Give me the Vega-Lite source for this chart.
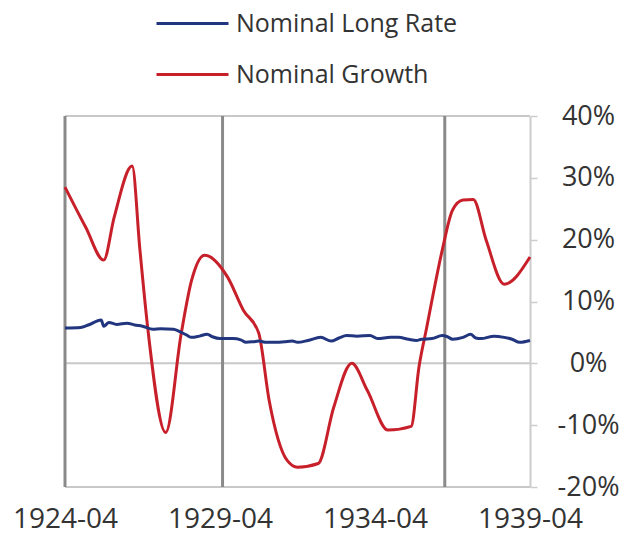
{
  "$schema": "https://vega.github.io/schema/vega-lite/v6.json",
  "width": 465,
  "height": 371,
  "autosize": {"type": "none"},
  "padding": {"left": 65, "top": 116, "right": 107, "bottom": 63},
  "background": "white",
  "config": {
    "view": {"stroke": null},
    "font": "Open Sans",
    "axis": {"labelFont": "Open Sans", "labelColor": "#333333"},
    "legend": {"labelFont": "Open Sans"}
  },
  "datasets": {
    "series": [
      {"date": "1924-04-01", "series": "Nominal Growth", "value": 28.5},
      {"date": "1924-12-01", "series": "Nominal Growth", "value": 22.0},
      {"date": "1925-07-01", "series": "Nominal Growth", "value": 16.7},
      {"date": "1925-11-01", "series": "Nominal Growth", "value": 23.6},
      {"date": "1926-06-01", "series": "Nominal Growth", "value": 31.9},
      {"date": "1926-09-01", "series": "Nominal Growth", "value": 18.3},
      {"date": "1926-12-01", "series": "Nominal Growth", "value": 5.8},
      {"date": "1927-07-01", "series": "Nominal Growth", "value": -11.2},
      {"date": "1928-01-01", "series": "Nominal Growth", "value": 4.9},
      {"date": "1928-05-01", "series": "Nominal Growth", "value": 13.4},
      {"date": "1928-10-01", "series": "Nominal Growth", "value": 17.5},
      {"date": "1929-07-01", "series": "Nominal Growth", "value": 13.9},
      {"date": "1930-01-01", "series": "Nominal Growth", "value": 8.6},
      {"date": "1930-07-01", "series": "Nominal Growth", "value": 4.9},
      {"date": "1930-11-01", "series": "Nominal Growth", "value": -6.0},
      {"date": "1931-06-01", "series": "Nominal Growth", "value": -15.7},
      {"date": "1931-10-01", "series": "Nominal Growth", "value": -16.8},
      {"date": "1932-06-01", "series": "Nominal Growth", "value": -16.2},
      {"date": "1932-12-01", "series": "Nominal Growth", "value": -7.1},
      {"date": "1933-07-01", "series": "Nominal Growth", "value": 0.0},
      {"date": "1934-01-01", "series": "Nominal Growth", "value": -4.4},
      {"date": "1934-09-01", "series": "Nominal Growth", "value": -10.8},
      {"date": "1935-06-01", "series": "Nominal Growth", "value": -10.2},
      {"date": "1935-09-01", "series": "Nominal Growth", "value": -0.6},
      {"date": "1935-12-01", "series": "Nominal Growth", "value": 5.8},
      {"date": "1936-02-01", "series": "Nominal Growth", "value": 10.2},
      {"date": "1936-06-01", "series": "Nominal Growth", "value": 18.3},
      {"date": "1936-10-01", "series": "Nominal Growth", "value": 24.8},
      {"date": "1937-02-01", "series": "Nominal Growth", "value": 26.4},
      {"date": "1937-06-01", "series": "Nominal Growth", "value": 26.5},
      {"date": "1937-11-01", "series": "Nominal Growth", "value": 19.9},
      {"date": "1938-06-01", "series": "Nominal Growth", "value": 12.8},
      {"date": "1939-04-01", "series": "Nominal Growth", "value": 17.2},
      {"date": "1924-04-01", "series": "Nominal Long Rate", "value": 5.7},
      {"date": "1924-10-01", "series": "Nominal Long Rate", "value": 5.8},
      {"date": "1925-01-01", "series": "Nominal Long Rate", "value": 6.2},
      {"date": "1925-06-01", "series": "Nominal Long Rate", "value": 7.0},
      {"date": "1925-07-01", "series": "Nominal Long Rate", "value": 6.0},
      {"date": "1925-09-01", "series": "Nominal Long Rate", "value": 6.6},
      {"date": "1925-12-01", "series": "Nominal Long Rate", "value": 6.3},
      {"date": "1926-04-01", "series": "Nominal Long Rate", "value": 6.5},
      {"date": "1926-07-01", "series": "Nominal Long Rate", "value": 6.2},
      {"date": "1926-10-01", "series": "Nominal Long Rate", "value": 6.0},
      {"date": "1927-02-01", "series": "Nominal Long Rate", "value": 5.5},
      {"date": "1927-05-01", "series": "Nominal Long Rate", "value": 5.6},
      {"date": "1927-10-01", "series": "Nominal Long Rate", "value": 5.5},
      {"date": "1928-01-01", "series": "Nominal Long Rate", "value": 5.0},
      {"date": "1928-03-01", "series": "Nominal Long Rate", "value": 4.6},
      {"date": "1928-05-01", "series": "Nominal Long Rate", "value": 4.2},
      {"date": "1928-08-01", "series": "Nominal Long Rate", "value": 4.4},
      {"date": "1928-11-01", "series": "Nominal Long Rate", "value": 4.7},
      {"date": "1929-01-01", "series": "Nominal Long Rate", "value": 4.3},
      {"date": "1929-04-01", "series": "Nominal Long Rate", "value": 4.0},
      {"date": "1929-09-01", "series": "Nominal Long Rate", "value": 4.0},
      {"date": "1929-12-01", "series": "Nominal Long Rate", "value": 3.8},
      {"date": "1930-02-01", "series": "Nominal Long Rate", "value": 3.4},
      {"date": "1930-05-01", "series": "Nominal Long Rate", "value": 3.5},
      {"date": "1930-07-01", "series": "Nominal Long Rate", "value": 3.6},
      {"date": "1930-10-01", "series": "Nominal Long Rate", "value": 3.4},
      {"date": "1931-02-01", "series": "Nominal Long Rate", "value": 3.4},
      {"date": "1931-05-01", "series": "Nominal Long Rate", "value": 3.5},
      {"date": "1931-08-01", "series": "Nominal Long Rate", "value": 3.6},
      {"date": "1931-10-01", "series": "Nominal Long Rate", "value": 3.4},
      {"date": "1932-02-01", "series": "Nominal Long Rate", "value": 3.7},
      {"date": "1932-07-01", "series": "Nominal Long Rate", "value": 4.2},
      {"date": "1932-11-01", "series": "Nominal Long Rate", "value": 3.6},
      {"date": "1933-02-01", "series": "Nominal Long Rate", "value": 4.1},
      {"date": "1933-05-01", "series": "Nominal Long Rate", "value": 4.5},
      {"date": "1933-09-01", "series": "Nominal Long Rate", "value": 4.4},
      {"date": "1934-02-01", "series": "Nominal Long Rate", "value": 4.5},
      {"date": "1934-05-01", "series": "Nominal Long Rate", "value": 4.0},
      {"date": "1934-10-01", "series": "Nominal Long Rate", "value": 4.2},
      {"date": "1935-01-01", "series": "Nominal Long Rate", "value": 4.2},
      {"date": "1935-05-01", "series": "Nominal Long Rate", "value": 3.9},
      {"date": "1935-08-01", "series": "Nominal Long Rate", "value": 3.7},
      {"date": "1935-10-01", "series": "Nominal Long Rate", "value": 3.9},
      {"date": "1936-02-01", "series": "Nominal Long Rate", "value": 4.0},
      {"date": "1936-06-01", "series": "Nominal Long Rate", "value": 4.5},
      {"date": "1936-08-01", "series": "Nominal Long Rate", "value": 4.3},
      {"date": "1936-10-01", "series": "Nominal Long Rate", "value": 3.9},
      {"date": "1937-02-01", "series": "Nominal Long Rate", "value": 4.2},
      {"date": "1937-05-01", "series": "Nominal Long Rate", "value": 4.7},
      {"date": "1937-07-01", "series": "Nominal Long Rate", "value": 4.1},
      {"date": "1937-09-01", "series": "Nominal Long Rate", "value": 4.0},
      {"date": "1938-02-01", "series": "Nominal Long Rate", "value": 4.4},
      {"date": "1938-06-01", "series": "Nominal Long Rate", "value": 4.2},
      {"date": "1938-09-01", "series": "Nominal Long Rate", "value": 3.9},
      {"date": "1938-12-01", "series": "Nominal Long Rate", "value": 3.4},
      {"date": "1939-04-01", "series": "Nominal Long Rate", "value": 3.7}
    ],
    "vlines": [
      {"date": "1924-04-01"},
      {"date": "1929-05-01"},
      {"date": "1936-07-01"}
    ],
    "hlines": [
      {"v": 40},
      {"v": 0},
      {"v": -20}
    ]
  },
  "layer": [
    {
      "data": {"name": "hlines"},
      "mark": {"type": "rule", "color": "#c8c8c8", "strokeWidth": 2},
      "encoding": {
        "y": {
          "field": "v",
          "type": "quantitative",
          "scale": {"domain": [-20, 40], "nice": false},
          "axis": {
            "orient": "right",
            "title": null,
            "values": [-20, -10, 0, 10, 20, 30, 40],
            "labelExpr": "datum.value + '%'",
            "domain": true,
            "domainColor": "#cccccc",
            "domainWidth": 2,
            "ticks": true,
            "tickColor": "#cccccc",
            "tickSize": 7,
            "tickWidth": 1.5,
            "grid": false,
            "labelFontSize": 27,
            "labelPadding": 51,
            "labelAlign": "center"
          }
        }
      }
    },
    {
      "data": {"name": "vlines"},
      "mark": {"type": "rule", "color": "#8a8a8a", "strokeWidth": 3},
      "encoding": {
        "x": {
          "field": "date",
          "type": "temporal",
          "scale": {
            "type": "utc",
            "domain": [
              {"year": 1924, "month": 4, "date": 1, "utc": true},
              {"year": 1939, "month": 4, "date": 1, "utc": true}
            ]
          },
          "axis": {
            "title": null,
            "values": [
              {"year": 1924, "month": 4, "date": 1, "utc": true},
              {"year": 1929, "month": 4, "date": 1, "utc": true},
              {"year": 1934, "month": 4, "date": 1, "utc": true},
              {"year": 1939, "month": 4, "date": 1, "utc": true}
            ],
            "labelExpr": "utcFormat(datum.value, '%Y-%m')",
            "domain": false,
            "ticks": false,
            "grid": false,
            "labelFontSize": 28,
            "labelPadding": 18,
            "labelFlush": false
          }
        }
      }
    },
    {
      "data": {"name": "series"},
      "mark": {"type": "line", "strokeWidth": 3, "interpolate": "monotone"},
      "encoding": {
        "x": {
          "field": "date",
          "type": "temporal",
          "scale": {
            "type": "utc",
            "domain": [
              {"year": 1924, "month": 4, "date": 1, "utc": true},
              {"year": 1939, "month": 4, "date": 1, "utc": true}
            ]
          },
          "axis": {
            "title": null,
            "values": [
              {"year": 1924, "month": 4, "date": 1, "utc": true},
              {"year": 1929, "month": 4, "date": 1, "utc": true},
              {"year": 1934, "month": 4, "date": 1, "utc": true},
              {"year": 1939, "month": 4, "date": 1, "utc": true}
            ],
            "labelExpr": "utcFormat(datum.value, '%Y-%m')",
            "domain": false,
            "ticks": false,
            "grid": false,
            "labelFontSize": 28,
            "labelPadding": 18,
            "labelFlush": false
          }
        },
        "y": {
          "field": "value",
          "type": "quantitative",
          "scale": {"domain": [-20, 40], "nice": false},
          "axis": {
            "orient": "right",
            "title": null,
            "values": [-20, -10, 0, 10, 20, 30, 40],
            "labelExpr": "datum.value + '%'",
            "domain": true,
            "domainColor": "#cccccc",
            "domainWidth": 2,
            "ticks": true,
            "tickColor": "#cccccc",
            "tickSize": 7,
            "tickWidth": 1.5,
            "grid": false,
            "labelFontSize": 27,
            "labelPadding": 51,
            "labelAlign": "center"
          }
        },
        "color": {
          "field": "series",
          "type": "nominal",
          "scale": {
            "domain": ["Nominal Long Rate", "Nominal Growth"],
            "range": ["#22357f", "#c8202a"]
          },
          "legend": {
            "title": null,
            "orient": "none",
            "legendX": 90,
            "legendY": -130,
            "padding": 0,
            "symbolType": "stroke",
            "symbolSize": 5184,
            "symbolStrokeWidth": 3,
            "labelFontSize": 25,
            "labelColor": "#333333",
            "labelOffset": 6,
            "rowPadding": -1,
            "labelLimit": 400
          }
        }
      }
    }
  ]
}
